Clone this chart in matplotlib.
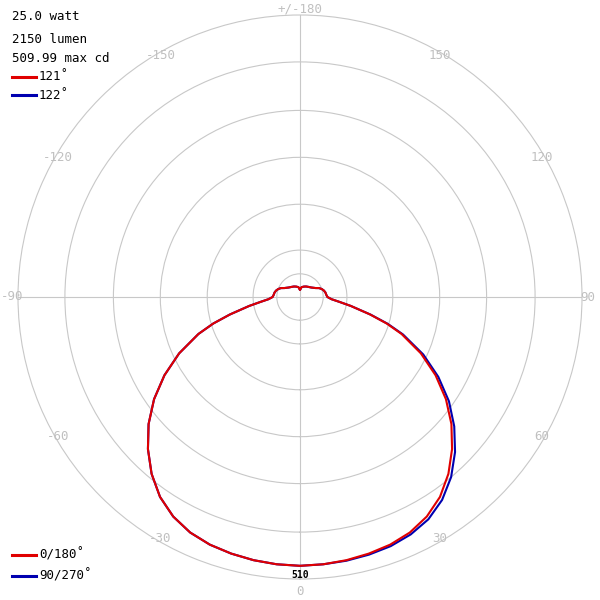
import numpy as np
import matplotlib
matplotlib.use("Agg")
import matplotlib.pyplot as plt

# angle from nadir (deg) and intensity (cd)
angles = [0, 5, 10, 15, 20, 25, 30, 35, 40, 45, 50, 55, 60, 65, 70, 73, 76, 80, 83, 86, 90,
          95, 100, 105, 110, 115, 120, 130, 140, 150, 160, 170, 175, 178, 180]
red_cd = [510, 509, 507, 504, 500, 493, 481, 463, 438, 408, 375, 338, 297, 253, 205, 172, 137, 98, 75, 60, 52,
          50, 49, 47, 44, 40, 34, 28, 25, 23, 21, 19, 17, 14, 15]
blue_right_cd = [510, 509, 508, 506, 503, 497, 487, 470, 446, 416, 382, 345, 303, 258, 208, 174, 138, 98, 75, 60, 52,
                 50, 49, 47, 44, 40, 34, 28, 25, 23, 21, 19, 17, 14, 15]
rings = [44, 89, 176, 265, 354, 446]
rmax = 535
label_angles = [0, 30, 60, 90, 120, 150, 180, -150, -120, -90, -60, -30]
label_texts = ["0", "30", "60", "90", "120", "150", "+/-180", "-150", "-120", "-90", "-60", "-30"]

def full(vals_right, vals_left):
    a = np.array(angles, float)
    th = np.concatenate([-a[::-1], a[1:]])
    r = np.concatenate([np.array(vals_left)[::-1], np.array(vals_right)[1:]])
    return np.radians(th), r

fig = plt.figure(figsize=(6, 6), dpi=100)
ax = fig.add_axes([0.03, 0.035, 0.94, 0.94], projection="polar")
ax.set_theta_zero_location("S")
ax.set_theta_direction(1)
ax.set_ylim(0, rmax)
ax.set_yticks(rings)
ax.set_yticklabels([])
ax.set_xticks(np.radians([0, 90, 180, 270]))
ax.set_xticklabels([])
ax.grid(color="#c8c8c8", lw=0.8)
ax.spines["polar"].set_color("#c8c8c8")
ax.spines["polar"].set_linewidth(0.8)

th, r = full(red_cd, red_cd)
thb, rb = full(blue_right_cd, red_cd)
ax.plot(thb, rb, color="#0000b0", lw=1.5)
ax.plot(th, r, color="#e00000", lw=1.5)

mono = "DejaVu Sans Mono"
for a, t in zip(label_angles, label_texts):
    if a == 0:
        rr = rmax * 1.045
    elif abs(a) in (90, 180):
        rr = rmax * 1.02
    else:
        rr = rmax * 0.99
    ax.text(np.radians(a), rr, t, ha="center", va="center", color="#c0c0c0",
            fontsize=9, family=mono, clip_on=False)
ax.text(0, 510 * 1.035, "510", ha="center", va="center", fontsize=7, fontweight="bold", family=mono)

fs = 9
fig.text(0.02, 0.972, "25.0 watt", fontsize=fs, family=mono, va="center")
fig.text(0.02, 0.934, "2150 lumen", fontsize=fs, family=mono, va="center")
fig.text(0.02, 0.903, "509.99 max cd", fontsize=fs, family=mono, va="center")
for y, c, t in [(0.872, "#e00000", "121˚"), (0.841, "#0000b0", "122˚"),
                (0.075, "#e00000", "0/180˚"), (0.04, "#0000b0", "90/270˚")]:
    fig.add_artist(plt.Line2D([0.02, 0.06], [y, y], color=c, lw=2.2, transform=fig.transFigure))
    fig.text(0.065, y, t, fontsize=fs, family=mono, va="center")

fig.savefig("out.png", dpi=100)
